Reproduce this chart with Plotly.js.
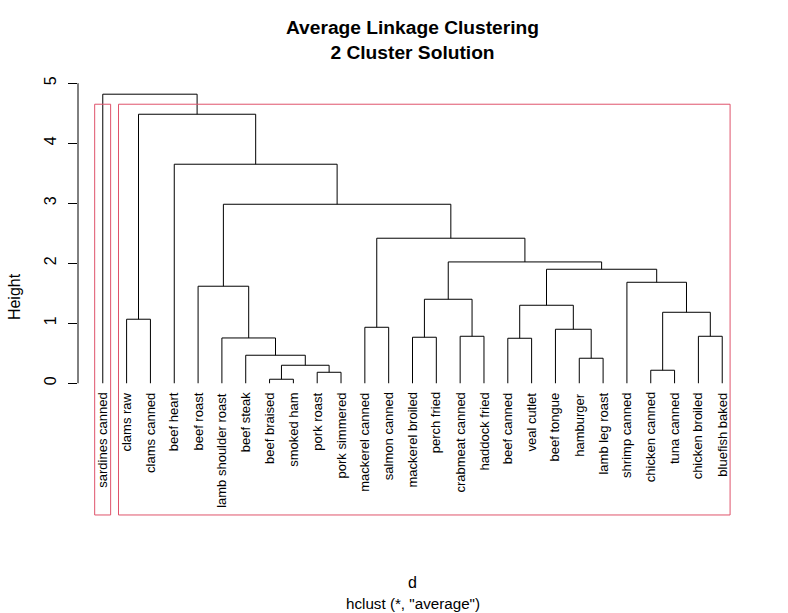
<!DOCTYPE html>
<html>
<head>
<meta charset="utf-8">
<script src="https://cdn.plot.ly/plotly-3.0.1.min.js"></script>
<style>html,body{margin:0;padding:0;background:#fff;}#chart{width:788px;height:613px;}</style>
</head>
<body>
<div id="chart"></div>
<script>
// Leaf labels in dendrogram order (left to right)
const leafLabels = ["sardines canned","clams raw","clams canned","beef heart","beef roast",
  "lamb shoulder roast","beef steak","beef braised","smoked ham","pork roast","pork simmered",
  "mackerel canned","salmon canned","mackerel broiled","perch fried","crabmeat canned",
  "haddock fried","beef canned","veal cutlet","beef tongue","hamburger","lamb leg roast",
  "shrimp canned","chicken canned","tuna canned","chicken broiled","bluefish baked"];

// Merge table (hclust style): negative = leaf position, positive = earlier merge (1-based)
const mergeLeft  = [-8,-10,-24, 1,-21,-7,-18,-6,-14,-16,-26,-20,-12,-2, 3, 7, 9,-5,-23,16,17,13,18,-4,14,-1];
const mergeRight = [-9,-11,-25, 2,-22, 4,-19, 6,-15,-17,-27,  5,-13,-3,11,12,10, 8, 15,19,20,21,22,23,24,25];
const mergeHeight = [0.067,0.183,0.217,0.30,0.417,0.467,0.75,0.755,0.767,0.783,0.783,0.90,0.933,
  1.067,1.183,1.30,1.40,1.617,1.683,1.90,2.022,2.417,2.983,3.65,4.483,4.817];

// Cluster sizes (k = 2) in leaf order
const clusterSizes = [1, 26];

const yTicks = [0,1,2,3,4,5];

const FONT = "Liberation Sans, Arial, sans-serif";

// Build dendrogram segments
const nodeX = [], nodeH = [];
const xs = [], ys = [];
function childPos(c){
  if (c < 0) return [-c, 0];
  return [nodeX[c-1], nodeH[c-1]];
}
for (let i = 0; i < mergeHeight.length; i++){
  const [xl, hl] = childPos(mergeLeft[i]);
  const [xr, hr] = childPos(mergeRight[i]);
  const h = mergeHeight[i];
  xs.push(xl, xl, xr, xr, null);
  ys.push(hl, h, h, hr, null);
  nodeX.push((xl + xr) / 2);
  nodeH.push(h);
}

const yMin = -2.212, yMax = 5.087;
const nLeaf = leafLabels.length;

// Cluster rectangles (rect.hclust style)
const sortedH = mergeHeight.slice().sort((a,b)=>b-a);
const rectTop = (sortedH[0] + sortedH[1]) / 2;
const rx = [], ry = [];
let cum = 0;
for (const s of clusterSizes){
  const x0 = cum + 0.66, x1 = cum + s + 0.33;
  rx.push(x0, x1, x1, x0, x0, null);
  ry.push(yMin + 0.017, yMin + 0.017, rectTop, rectTop, yMin + 0.017, null);
  cum += s;
}

const traces = [
  {x: xs, y: ys, type: "scatter", mode: "lines", line: {color: "#000", width: 1}, hoverinfo: "skip", showlegend: false},
  {x: rx, y: ry, type: "scatter", mode: "lines", line: {color: "#DF536B", width: 1}, hoverinfo: "skip", showlegend: false}
];

const annotations = leafLabels.map((lab, i) => ({
  x: i + 1, y: -0.12, xref: "x", yref: "y", text: lab, showarrow: false,
  textangle: -90, xanchor: "center", yanchor: "top",
  font: {family: FONT, size: 13, color: "#000"}
}));
annotations.push({
  x: 0.5, y: -0.2, xref: "paper", yref: "paper", yanchor: "middle",
  text: 'hclust (*, "average")', showarrow: false,
  font: {family: FONT, size: 15.2, color: "#000"}
});

const layout = {
  width: 788, height: 613,
  margin: {l: 78, r: 41, t: 78, b: 97},
  paper_bgcolor: "#fff", plot_bgcolor: "#fff",
  showlegend: false,
  title: {
    text: "<b>Average Linkage Clustering<br>2 Cluster Solution</b>",
    font: {family: FONT, size: 19.2, color: "#000"},
    x: 0.5235, xanchor: "center", y: 0.944, yanchor: "top", yref: "container"
  },
  xaxis: {
    range: [-0.04, nLeaf + 1.04], showgrid: false, zeroline: false, showline: false,
    showticklabels: false, ticks: "", fixedrange: true,
    title: {text: "d", font: {family: FONT, size: 16, color: "#000"}, standoff: 60}
  },
  yaxis: {
    range: [yMin, yMax], showgrid: false, zeroline: false, showline: false,
    tickvals: yTicks, ticktext: yTicks.map(String), ticks: "outside", ticklen: 9,
    tickcolor: "#000", tickwidth: 1, tickangle: -90, ticklabelstandoff: 6,
    tickfont: {family: FONT, size: 16, color: "#000"},
    title: {text: "Height", font: {family: FONT, size: 16, color: "#000"}, standoff: 16},
    fixedrange: true
  },
  shapes: [{
    type: "line", xref: "paper", yref: "y", x0: 0, x1: 0,
    y0: yTicks[0], y1: yTicks[yTicks.length-1], line: {color: "#000", width: 1}
  }],
  annotations: annotations
};

Plotly.newPlot("chart", traces, layout, {displayModeBar: false, staticPlot: true});
</script>
</body>
</html>
